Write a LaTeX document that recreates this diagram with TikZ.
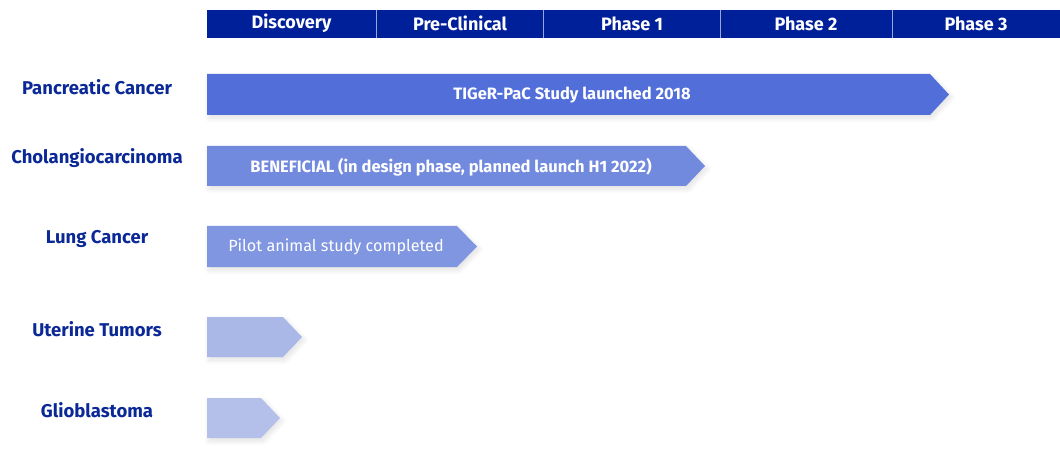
\documentclass[tikz,border=0pt]{standalone}
\usepackage{fontspec}
\setmainfont{Fira Sans}
\usetikzlibrary{shadows.blur}
\definecolor{hdr}{HTML}{00209A}
\definecolor{lbl}{HTML}{0A2896}
\definecolor{barA}{HTML}{526FD9}
\definecolor{barB}{HTML}{728ADE}
\definecolor{barC}{HTML}{8096E0}
\definecolor{barD}{HTML}{AAB8E8}
\definecolor{barE}{HTML}{B4C0EA}
\tikzset{
  htext/.style={text=white, font=\bfseries\fontsize{18}{20}\selectfont, anchor=center},
  rowlbl/.style={text=lbl, font=\bfseries\fontsize{18.5}{20}\selectfont, anchor=center},
  bartext/.style={text=white, font=\bfseries\fontsize{16.5}{18}\selectfont, anchor=center},
  bartextn/.style={text=white, font=\fontsize{16.2}{18}\selectfont, anchor=center},
  barsh/.style={blur shadow={shadow xshift=2pt, shadow yshift=-3pt, shadow blur steps=8, shadow opacity=12, shadow blur radius=5pt}}
}
\begin{document}
\begin{tikzpicture}[x=1pt,y=-1pt]
\useasboundingbox (0,0) rectangle (1060,457);
% header
\fill[hdr] (207,10) rectangle (1060,38);
\foreach \xx in {376.5,543.5,720.5,892.5}{\draw[white!60!hdr, line width=0.8pt] (\xx,10) -- (\xx,38);}
\node[htext] (h1) at (291.5,23.5) {Discovery};
\node[htext] (h2) at (460,23.5) {Pre-Clinical};
\node[htext] (h3) at (632,23.5) {Phase 1};
\node[htext] (h4) at (806,23.5) {Phase 2};
\node[htext] (h5) at (976,23.5) {Phase 3};
% row labels
\node[rowlbl] (l1) at (97,87) {Pancreatic Cancer};
\node[rowlbl] (l2) at (97,158) {Cholangiocarcinoma};
\node[rowlbl] (l3) at (97,239) {Lung Cancer};
\node[rowlbl] (l4) at (97,329) {Uterine Tumors};
\node[rowlbl] (l5) at (97,410) {Glioblastoma};
% bars
\fill[barA, barsh] (207,74) -- (930,74) -- (949,94.5) -- (930,115) -- (207,115) -- cycle;
\node[bartext] (b1) at (572,95) {TIGeR-PaC Study launched 2018};
\fill[barB, barsh] (207,146) -- (686,146) -- (705,166) -- (686,186) -- (207,186) -- cycle;
\node[bartext] (b2) at (451,167) {BENEFICIAL (in design phase, planned launch H1 2022)};
\fill[barC, barsh] (207,226) -- (457,226) -- (477,246.5) -- (457,267) -- (207,267) -- cycle;
\node[bartextn] (b3) at (336,247) {Pilot animal study completed};
\fill[barD, barsh] (207,317) -- (283,317) -- (302,337) -- (283,357) -- (207,357) -- cycle;
\fill[barE, barsh] (207,398) -- (261,398) -- (280,418) -- (261,438) -- (207,438) -- cycle;
\end{tikzpicture}
\end{document}
